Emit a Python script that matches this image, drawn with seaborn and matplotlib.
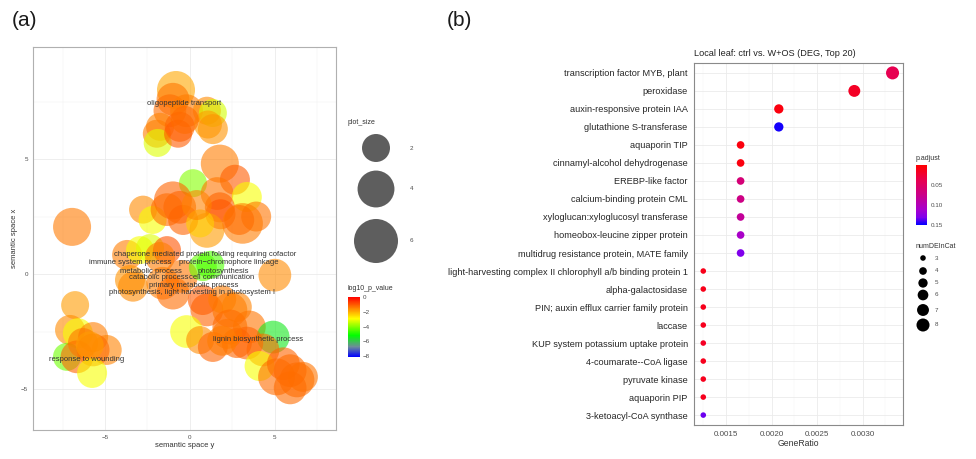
import numpy as np
import pandas as pd
import matplotlib
matplotlib.use("Agg")
import matplotlib.pyplot as plt
import seaborn as sns
from matplotlib.colors import LinearSegmentedColormap, Normalize
from matplotlib.cm import ScalarMappable
from matplotlib.patches import Circle

# ---------------- panel (a): REVIGO semantic space ----------------
sem_y_coord = [-0.82, -1.0, -1.18, -0.2, 1.0, 1.35, -1.76, -1.95, -1.9, -0.6, -0.7, 1.06, 1.35, -0.3,
               1.76, 2.65, 0.18, 1.6, 3.35, 1.76, 1.8, 1.0, 3.1, 3.9, 2.9,
               -2.76, -2.2, -1.0, -0.6, -1.35, -0.4, 0.6, 0.4,
               -6.94, 5.0,
               -3.7, -2.94, -2.35, -1.35, -1.76, -3.53, -1.6, -1.0, -0.5, 0.76, 1.2, 1.0, 2.35, 0.76, 1.9, 2.76, -3.35,
               -0.2, 0.6, 1.35, 2.35, 3.5, 4.9, 3.35, 4.3, 4.1, 5.5, 5.1, 6.3, 6.65, 5.9, 2.76, 2.2, 5.9, 1.9,
               -6.76, -7.06, -6.6, -5.7, -4.9, -7.24, -6.65, -5.7, -5.76, -6.3, -5.9]
sem_x_coord = [8.0, 7.6, 7.1, 7.1, 7.1, 7.0, 6.4, 6.1, 5.7, 6.4, 6.1, 6.5, 6.3, 6.7,
               4.8, 4.1, 3.95, 3.5, 3.35, 2.9, 2.6, 1.9, 2.2, 2.5, 2.35,
               2.8, 2.35, 3.2, 2.9, 2.8, 2.35, 2.2, 3.0,
               2.05, -0.05,
               0.83, 1.04, 1.13, 1.04, 0.74, -0.26, -0.4, -0.83, -0.1, 0.3, 0.4, -1.56, -1.56, -1.13, -1.1, -1.43, -0.55,
               -2.5, -2.87, -3.17, -2.3, -2.3, -2.74, -3.0, -3.3, -4.0, -3.9, -4.47, -4.6, -4.47, -4.2, -3.0, -2.6, -4.95, -2.9,
               -1.35, -2.43, -2.57, -2.74, -3.3, -3.6, -3.6, -3.3, -4.3, -3.0, -3.1]
plot_size = [4.3, 3.0, 3.0, 3.0, 1.5, 1.0, 1.5, 2.0, 2.0, 2.4, 2.0, 2.0, 2.4, 2.0,
             4.3, 2.4, 1.2, 3.0, 2.4, 2.4, 2.4, 3.5, 5.0, 2.4, 2.4,
             2.0, 2.0, 4.3, 3.0, 3.0, 2.4, 2.0, 2.4,
             4.3, 3.0,
             2.4, 2.0, 2.0, 2.0, 2.4, 2.4, 3.0, 3.0, 3.0, 2.0, 1.5, 3.0, 3.5, 2.4, 2.0, 2.4, 2.4,
             3.0, 2.0, 2.4, 3.5, 3.0, 3.0, 3.0, 3.0, 2.4, 3.0, 4.0, 3.5, 2.4, 3.0, 2.4, 2.4, 3.0, 2.4,
             2.0, 2.4, 2.4, 2.4, 2.4, 2.0, 3.0, 3.0, 2.4, 2.4, 2.0]
log10_p_value = [-1.9, -1.35, -1.25, -1.45, -1.6, -3.3, -1.5, -1.45, -3.2, -1.15, -1.05, -1.8, -1.7, -1.25,
                 -1.45, -1.05, -4.0, -1.35, -3.0, -1.15, -0.95, -1.8, -1.45, -1.35, -1.25,
                 -1.6, -3.0, -1.15, -1.15, -1.25, -1.15, -2.4, -1.5,
                 -1.4, -1.6,
                 -1.45, -3.0, -3.2, -0.95, -1.45, -1.7, -1.45, -1.25, -1.35, -4.3, -4.5, -1.15, -1.35, -1.05, -1.45, -1.5, -1.6,
                 -3.0, -1.6, -1.15, -1.25, -1.35, -5.5, -1.15, -1.25, -3.0, -1.15, -1.25, -1.25, -1.35, -1.25, -1.15, -1.35, -1.25, -1.45,
                 -1.8, -1.6, -3.0, -1.45, -1.5, -4.2, -1.15, -1.25, -3.0, -1.35, -1.8]

label_text = ["oligopeptide transport",
              "chaperone mediated protein folding requiring cofactor",
              "immune system process", "protein\u2212chromophore linkage",
              "metabolic process", "photosynthesis",
              "catabolic process", "cell communication",
              "primary metabolic process",
              "photosynthesis, light harvesting in photosystem I",
              "lignin biosynthetic process", "response to wounding"]
label_x = [-0.35, 0.88, -3.53, 2.3, -2.3, 1.96, -1.86, 1.86, 0.25, 0.1, 4.0, -6.1]
label_y = [7.4, 0.83, 0.48, 0.48, 0.13, 0.13, -0.17, -0.13, -0.5, -0.82, -2.83, -3.7]

size_breaks = [2, 4, 6]
logp_breaks = [0, -2, -4, -6, -8]

# ---------------- panel (b): DEG dot plot ----------------
terms = ["transcription factor MYB, plant", "peroxidase", "auxin-responsive protein IAA",
         "glutathione S-transferase", "aquaporin TIP", "cinnamyl-alcohol dehydrogenase",
         "EREBP-like factor", "calcium-binding protein CML", "xyloglucan:xyloglucosyl transferase",
         "homeobox-leucine zipper protein", "multidrug resistance protein, MATE family",
         "light-harvesting complex II chlorophyll a/b binding protein 1", "alpha-galactosidase",
         "PIN; auxin efflux carrier family protein", "laccase", "KUP system potassium uptake protein",
         "4-coumarate--CoA ligase", "pyruvate kinase", "aquaporin PIP", "3-ketoacyl-CoA synthase"]
gene_ratio = [0.00333, 0.00291, 0.00208, 0.00208, 0.00166, 0.00166, 0.00166, 0.00166, 0.00166,
              0.00166, 0.00166, 0.00125, 0.00125, 0.00125, 0.00125, 0.00125, 0.00125, 0.00125,
              0.00125, 0.00125]
num_de_in_cat = [8, 7, 5, 5, 4, 4, 4, 4, 4, 4, 4, 3, 3, 3, 3, 3, 3, 3, 3, 3]
p_adjust = [0.040, 0.019, 0.008, 0.148, 0.008, 0.008, 0.064, 0.073, 0.084, 0.110, 0.132,
            0.013, 0.013, 0.014, 0.015, 0.018, 0.015, 0.015, 0.015, 0.135]
ratio_breaks = [0.0015, 0.0020, 0.0025, 0.0030]
padj_breaks = [0.05, 0.10, 0.15]
count_breaks = [3, 4, 5, 6, 7, 8]

# ---------------- style ----------------
sns.set_style("white")
plt.rcParams['font.family'] = ['Liberation Sans', 'DejaVu Sans']

W, H = 976, 459
fig = plt.figure(figsize=(W / 100, H / 100), dpi=100)

def frac(l, t, r, b):
    return [l / W, (H - b) / H, (r - l) / W, (b - t) / H]

cmap_a = LinearSegmentedColormap.from_list(
    "revigo", [(0.0, "#0000FF"), (0.17, "#6E8C9A"), (0.36, "#00FF00"),
               (0.64, "#FFFF00"), (1.0, "#FF0000")])
norm_a = Normalize(-8.1, 0)

cmap_b = LinearSegmentedColormap.from_list(
    "redblue", [(0.0, "#FF0000"), (0.25, "#E8004F"), (0.5, "#CA0089"),
                (0.75, "#A600CE"), (0.875, "#8000EC"), (1.0, "#0000FF")])
norm_b = Normalize(0.001, 0.151)

size_a_range = (406, 1004)
size_b_range = (16, 88)

# ---------------- panel (a) ----------------
axa = fig.add_axes(frac(33, 47, 336, 430))
dfa = pd.DataFrame({"x": sem_y_coord, "y": sem_x_coord, "plot_size": plot_size,
                    "log10_p_value": log10_p_value})
sns.scatterplot(data=dfa, x="x", y="y", hue="log10_p_value", size="plot_size",
                palette=cmap_a, hue_norm=norm_a, sizes=size_a_range, size_norm=(2, 6),
                alpha=0.6, edgecolor="none", linewidth=0, legend=False, ax=axa, zorder=3)
for t, x, y in zip(label_text, label_x, label_y):
    axa.text(x, y, t, fontsize=5.5, color="#333333", ha="center", va="center", zorder=5)
axa.set_xlim(-9.24, 8.6)
axa.set_ylim(-6.78, 9.87)
axa.set_xticks([-5, 0, 5])
axa.set_xticklabels(["\u22125", "0", "5"])
axa.set_yticks([-5, 0, 5])
axa.set_yticklabels(["\u22125", "0", "5"])
axa.set_xticks([-7.5, -2.5, 2.5, 7.5], minor=True)
axa.set_yticks([-2.5, 2.5, 7.5], minor=True)
axa.grid(True, which="major", color="#EBEBEB", linewidth=0.6, zorder=0)
axa.grid(True, which="minor", color="#F2F2F2", linewidth=0.35, zorder=0)
axa.set_axisbelow(True)
axa.tick_params(which="major", length=2, width=0.5, color="#888888", labelsize=4.5,
                labelcolor="#4D4D4D", pad=1.5)
axa.tick_params(which="minor", length=0)
for s in axa.spines.values():
    s.set_color("#B0B0B0")
    s.set_linewidth(0.8)
axa.set_xlabel("semantic space y", fontsize=5.5, color="#333333", labelpad=1.5)
axa.set_ylabel("semantic space x", fontsize=5.5, color="#333333", labelpad=2)

# colorbar (a)
caxa = fig.add_axes(frac(348, 297, 360, 357))
cba = fig.colorbar(ScalarMappable(norm=norm_a, cmap=cmap_a), cax=caxa)
cba.set_ticks(logp_breaks)
cba.set_ticklabels(["0" if v == 0 else "\u2212%d" % abs(v) for v in logp_breaks])
cba.outline.set_visible(False)
caxa.tick_params(length=0, labelsize=4.5, pad=2, labelcolor="#4D4D4D")

# ---------------- panel (b) ----------------
axb = fig.add_axes(frac(694, 63, 903, 425))
dfb = pd.DataFrame({"Description": terms, "GeneRatio": gene_ratio,
                    "numDEInCat": num_de_in_cat, "p.adjust": p_adjust})
sns.scatterplot(data=dfb, x="GeneRatio", y="Description", hue="p.adjust", size="numDEInCat",
                palette=cmap_b, hue_norm=norm_b, sizes=size_b_range, size_norm=(3, 8),
                edgecolor="none", linewidth=0, legend=False, ax=axb, zorder=3)
n = len(terms)
axb.set_ylim(n - 1 + 0.55, -0.55)
axb.set_xlim(0.001148, 0.003445)
axb.set_xticks(ratio_breaks)
axb.set_xticklabels(["%.4f" % v for v in ratio_breaks])
axb.set_xticks([0.00125, 0.00175, 0.00225, 0.00275, 0.00325], minor=True)
axb.grid(True, which="major", color="#EBEBEB", linewidth=0.6, zorder=0)
axb.grid(True, which="minor", axis="x", color="#F3F3F3", linewidth=0.35, zorder=0)
axb.set_axisbelow(True)
axb.tick_params(axis="y", which="major", length=2.5, width=0.5, color="#555555",
                labelsize=6.55, labelcolor="#262626", pad=2)
axb.tick_params(axis="x", which="major", length=2.5, width=0.5, color="#555555",
                labelsize=5.8, labelcolor="#4D4D4D", pad=1.5)
axb.tick_params(which="minor", length=0)
for s in axb.spines.values():
    s.set_color("#8A8A8A")
    s.set_linewidth(0.8)
axb.set_xlabel("GeneRatio", fontsize=6.2, color="#333333", labelpad=1)
axb.set_ylabel("")
axb.set_title("Local leaf: ctrl vs. W+OS (DEG, Top 20)", fontsize=6.55, color="#222222",
              loc="left", pad=5)

# colorbar (b)
caxb = fig.add_axes(frac(916, 165, 927, 225))
cbb = fig.colorbar(ScalarMappable(norm=norm_b, cmap=cmap_b), cax=caxb)
caxb.invert_yaxis()
cbb.set_ticks(padj_breaks)
cbb.set_ticklabels(["%.2f" % v for v in padj_breaks])
cbb.outline.set_visible(False)
caxb.tick_params(length=0, labelsize=4.5, pad=2.5, labelcolor="#4D4D4D")

# ---------------- overlay for legends and panel tags ----------------
ov = fig.add_axes([0, 0, 1, 1], zorder=10)
ov.set_xlim(0, W)
ov.set_ylim(H, 0)
ov.axis("off")
ov.patch.set_alpha(0)

ov.text(12, 20, "(a)", fontsize=15, color="#1A1A1A", ha="left", va="center")
ov.text(447, 21, "(b)", fontsize=15, color="#1A1A1A", ha="left", va="center")

# size legend (a)
ov.text(348, 123, "plot_size", fontsize=5, color="#333333", ha="left", va="center")
size_px_y = [148, 189, 241]
for v, yy in zip(size_breaks, size_px_y):
    s_pt2 = size_a_range[0] + (v - 2) / 4 * (size_a_range[1] - size_a_range[0])
    r_px = np.sqrt(s_pt2) / 0.72 / 2
    ov.add_patch(Circle((376, yy), r_px, color="#5E5E5E", lw=0))
    ov.text(410, yy, str(v), fontsize=4.5, color="#4D4D4D", ha="left", va="center")
ov.text(348, 289, "log10_p_value", fontsize=5, color="#333333", ha="left", va="center")

# legends (b)
ov.text(916, 159, "p.adjust", fontsize=5, color="#333333", ha="left", va="center")
ov.text(916, 246, "numDEInCat", fontsize=5, color="#333333", ha="left", va="center")
count_px_y = [258, 271, 283, 295, 310, 325]
for v, yy in zip(count_breaks, count_px_y):
    s_pt2 = size_b_range[0] + (v - 3) / 5 * (size_b_range[1] - size_b_range[0])
    ov.scatter([923], [yy], s=s_pt2, color="black", edgecolors="none")
    ov.text(935, yy, str(v), fontsize=4.5, color="#4D4D4D", ha="left", va="center")

fig.savefig("out.png", dpi=100)
